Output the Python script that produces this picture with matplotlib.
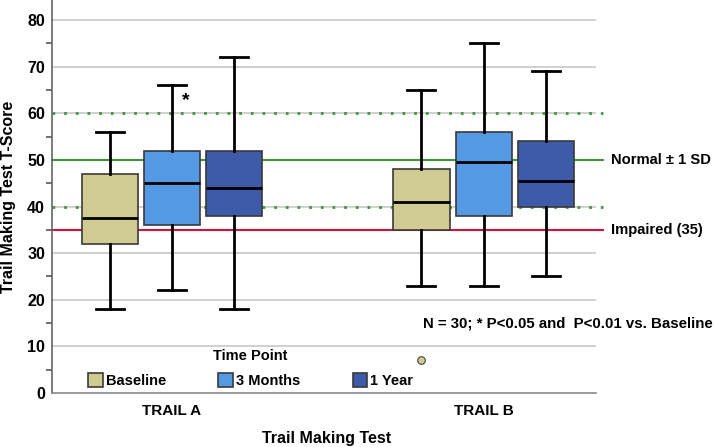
import matplotlib
matplotlib.use("Agg")
import matplotlib.pyplot as plt
from matplotlib.patches import Patch
import numpy as np

plt.rcParams['font.family'] = ['Liberation Sans', 'DejaVu Sans']
plt.rcParams['font.weight'] = 'bold'

tests = ["TRAIL A", "TRAIL B"]
timepoints = ["Baseline", "3 Months", "1 Year"]
colors = ["#CFCB91", "#5599E4", "#3D5BA8"]

# [test][timepoint]
whislo = [[18, 22, 18], [23, 23, 25]]
q1     = [[32, 36, 38], [35, 38, 40]]
med    = [[37.5, 45, 44], [41, 49.5, 45.5]]
q3     = [[47, 52, 52], [48, 56, 54]]
whishi = [[56, 66, 72], [65, 75, 69]]
outliers = [[[], [], []], [[7], [], []]]

normal_mean = 50
normal_sd = 10
impaired = 35

fig = plt.figure(figsize=(7.14, 4.47), dpi=100)
ax = fig.add_axes([0.0728, 0.1208, 0.762, 0.8792])

offsets = [-0.2, 0.0, 0.2]
width = 0.18

for y in range(10, 90, 10):
    ax.axhline(y, color="#C8C8C8", lw=1.2, zorder=0)

# reference lines
trans = ax.get_yaxis_transform()
ax.plot([0, 1.013], [normal_mean, normal_mean], color="#3A9A3A", lw=1.5, transform=trans, clip_on=False, zorder=1)
for v in (normal_mean - normal_sd, normal_mean + normal_sd):
    ax.plot([0, 1.013], [v, v], color="#3A9A3A", lw=2, ls=(0, (1, 3.2)), transform=trans, clip_on=False, zorder=1)
ax.plot([0, 1.013], [impaired, impaired], color="#D6103C", lw=1.5, transform=trans, clip_on=False, zorder=1)

for i, t in enumerate(tests):
    for j, tp in enumerate(timepoints):
        st = dict(whislo=whislo[i][j], q1=q1[i][j], med=med[i][j], q3=q3[i][j],
                  whishi=whishi[i][j], fliers=outliers[i][j])
        ax.bxp([st], positions=[i + offsets[j]], widths=width, patch_artist=True,
               showfliers=True,
               boxprops=dict(facecolor=colors[j], edgecolor="#3A3A3A", lw=1.2),
               medianprops=dict(color="black", lw=2),
               whiskerprops=dict(color="black", lw=2),
               capprops=dict(color="black", lw=2),
               capwidths=width / 2,
               flierprops=dict(marker='o', markerfacecolor=colors[j], markeredgecolor="#444444",
                               markersize=5.5, markeredgewidth=0.8),
               zorder=3)

ax.text(0.045, 62.8, "*", fontsize=14, ha="center", va="center", fontweight="bold")

ax.set_xlim(-0.385, 1.36)
ax.set_ylim(0, 84.3)
ax.set_xticks([0, 1])
ax.set_xticklabels(tests, fontsize=11, fontweight="bold")
ax.tick_params(axis="x", length=0, pad=8)
ax.set_yticks(range(0, 90, 10))
ax.set_yticks(range(5, 85, 10), minor=True)
ax.tick_params(axis="y", which="major", labelsize=11.5, length=0, pad=5)
ax.tick_params(axis="y", which="minor", length=4.5, width=1.2, color="#555555", direction="out")
for lab in ax.get_yticklabels():
    lab.set_fontweight("bold")

ax.set_ylabel("Trail Making Test T-Score", fontsize=11.5, fontweight="bold")
ax.yaxis.set_label_coords(-0.066, 0.5)
ax.set_xlabel("Trail Making Test", fontsize=11.5, fontweight="bold", va="center")
ax.xaxis.set_label_coords(0.504, -0.1145)

for s in ["top", "right"]:
    ax.spines[s].set_visible(False)
ax.spines["left"].set_color("#666666")
ax.spines["bottom"].set_color("#888888")
ax.spines["left"].set_linewidth(1.2)
ax.spines["bottom"].set_linewidth(1.2)

ax.text(1.027, normal_mean, "Normal \u00b1 1 SD", transform=trans, fontsize=10.6, fontweight="bold", va="center", ha="left")
ax.text(1.027, impaired, "Impaired (35)", transform=trans, fontsize=10.6, fontweight="bold", va="center", ha="left")
fig.text(0.998, 1 - 323 / 447, "N = 30; * P<0.05 and  P<0.01 vs. Baseline", fontsize=10.8, fontweight="bold", ha="right", va="center")

handles = [Patch(facecolor=c, edgecolor="#3A3A3A", lw=1.2) for c in colors]
leg = ax.legend(handles, timepoints, title="Time Point", ncol=3, frameon=False,
                loc="lower center", bbox_to_anchor=(0.365, -0.02), fontsize=10.5,
                title_fontproperties={"weight": "bold", "size": 10.5},
                handlelength=1.0, handleheight=1.1, handletextpad=0.2, columnspacing=3.6,
                labelspacing=0.7)

fig.savefig("out.png", dpi=100)
